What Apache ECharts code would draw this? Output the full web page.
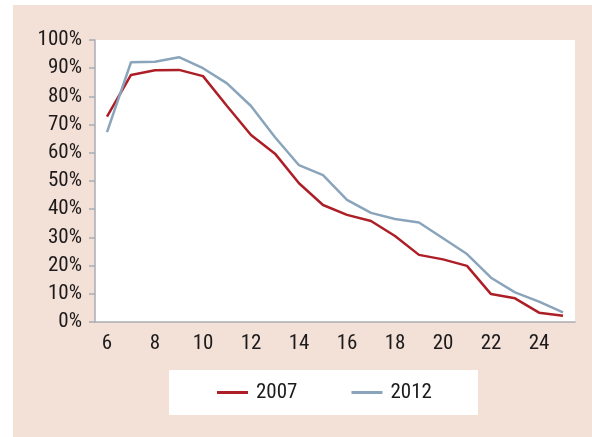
<!DOCTYPE html>
<html>
<head>
<meta charset="utf-8">
<script src="https://cdn.jsdelivr.net/npm/echarts@6/dist/echarts.min.js"></script>
<style>
  html, body { margin: 0; padding: 0; background: #fff; }
  #chart { width: 592px; height: 437px; }
</style>
</head>
<body>
<div id="chart"></div>
<script>
    // ages on the x axis
    var ages = ['6', '7', '8', '9', '10', '11', '12', '13', '14', '15', '16', '17', '18', '19', '20', '21', '22', '23', '24', '25'];
    var yTicks = [0, 10, 20, 30, 40, 50, 60, 70, 80, 90, 100];
    var data2007 = [72.8, 87.6, 89.3, 89.4, 87.2, 76.6, 66.3, 59.7, 49.2, 41.5, 38.0, 35.8, 30.5, 23.8, 22.2, 19.9, 9.9, 8.4, 3.3, 2.2];
    var data2012 = [67.3, 92.1, 92.3, 93.9, 90.0, 84.6, 76.6, 65.5, 55.6, 52.1, 43.3, 38.7, 36.5, 35.3, 29.7, 24.1, 15.7, 10.5, 7.2, 3.4];

    var font = '"Liberation Sans Narrow", "Roboto Condensed", "DejaVu Sans Condensed", sans-serif';
    var textColor = '#1c1a1b';
    var axisColor = '#a9acb4';

    var chart = echarts.init(document.getElementById('chart'));
    chart.setOption({
        backgroundColor: '#fff',
        animation: false,
        graphic: [
            {
                type: 'rect',
                z: -10,
                shape: { x: 13, y: 5, width: 579, height: 432 },
                style: { fill: '#f3e0d7' }
            },
            {
                type: 'rect',
                z: -9,
                shape: { x: 169, y: 370, width: 309, height: 45 },
                style: { fill: '#fff' }
            }
        ],
        grid: {
            left: 95,
            top: 40,
            width: 480,
            height: 282,
            backgroundColor: '#fff',
            show: true,
            borderWidth: 0
        },
        legend: {
            left: 212,
            top: 377,
            itemWidth: 31,
            itemHeight: 3,
            itemGap: 54,
            icon: 'rect',
            textStyle: { fontFamily: font, fontSize: 21, color: textColor, padding: [0, 0, 0, 3] },
            data: ['2007', '2012']
        },
        xAxis: {
            type: 'category',
            data: ages,
            boundaryGap: true,
            axisLine: { lineStyle: { color: axisColor, width: 1.5 } },
            axisTick: { show: false },
            axisLabel: {
                interval: 1,
                margin: 11,
                fontFamily: font,
                fontSize: 21,
                color: textColor
            }
        },
        yAxis: {
            type: 'value',
            min: yTicks[0],
            max: yTicks[yTicks.length - 1],
            interval: 10,
            splitLine: { show: false },
            axisLine: { show: true, lineStyle: { color: axisColor, width: 1.5 } },
            axisTick: { show: true, length: 6, lineStyle: { color: axisColor, width: 1.5 } },
            axisLabel: {
                margin: 13,
                fontFamily: font,
                fontSize: 21,
                color: textColor,
                formatter: '{value}%'
            }
        },
        series: [
            {
                name: '2007',
                type: 'line',
                data: data2007,
                symbol: 'none',
                color: '#ad1f27',
                lineStyle: { width: 2.5, color: '#ad1f27' }
            },
            {
                name: '2012',
                type: 'line',
                data: data2012,
                symbol: 'none',
                color: '#8aa5bb',
                lineStyle: { width: 2.5, color: '#8aa5bb' }
            }
        ]
    });
</script>
</body>
</html>
